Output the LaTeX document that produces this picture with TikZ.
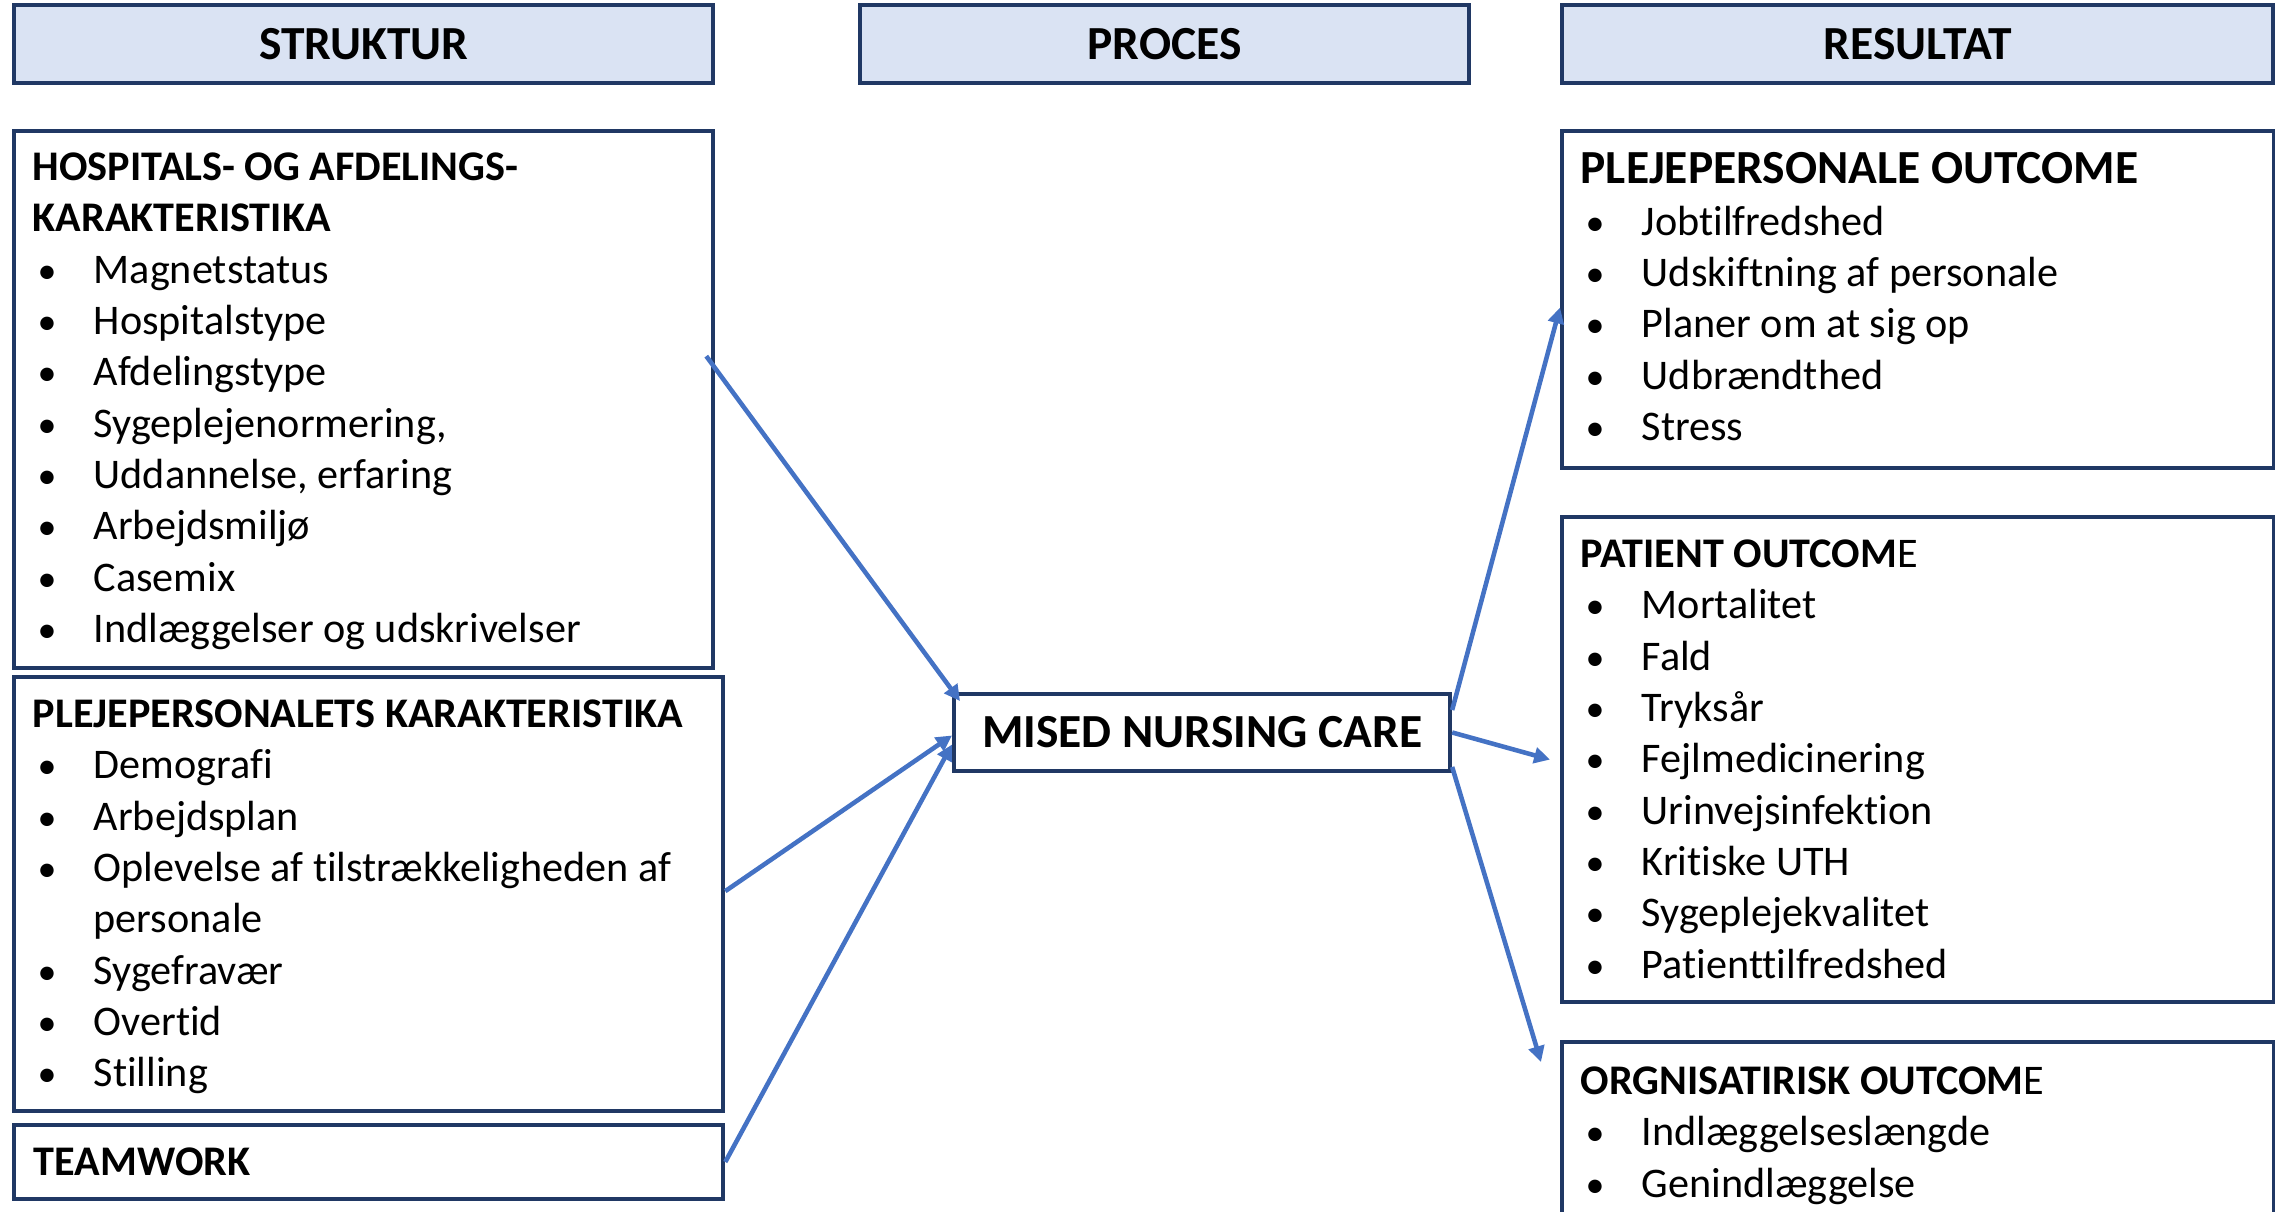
\documentclass[tikz,border=0pt]{standalone}
\usepackage{fontspec}
\setmainfont[Ligatures=NoCommon]{Carlito}
\usetikzlibrary{positioning,arrows.meta}
\definecolor{mncNavy}{RGB}{32,56,100}
\definecolor{mncHead}{RGB}{218,227,243}
\definecolor{mncArrow}{RGB}{68,114,196}
\newcommand{\itm}[1]{\hspace*{0.05cm}\makebox[0.56cm][l]{\scalebox{0.9}{\textbullet}}#1}

\begin{document}
\begin{tikzpicture}[
    x=0.01cm, y=-0.01cm,
    box/.style={rectangle, draw=mncNavy, line width=1.1pt, fill=white, anchor=north west, inner sep=0pt},
    head/.style={box, fill=mncHead, minimum height=0.78cm, font=\fontsize{13.5}{16}\selectfont\bfseries},
    listtxt/.style={anchor=north west, inner sep=0pt, align=left, font=\fontsize{12}{14.6}\selectfont},
    flow/.style={draw=mncArrow, line width=1.3pt, -{Triangle[length=4.5pt,width=4.5pt]}}
]
  \useasboundingbox (0,0) rectangle (2275,1211);

  % column headings
  \node[head, minimum width=6.99cm] (hdS) at (12,3) {STRUKTUR};
  \node[head, minimum width=6.09cm] (hdP) at (858,3) {PROCES};
  \node[head, minimum width=7.11cm] (hdR) at (1560,3) {RESULTAT};

  % struktur
  \node[box, minimum width=6.99cm, minimum height=5.37cm] (hosp) at (12,129) {};
  \node[box, minimum width=7.09cm, minimum height=4.34cm] (pleje) at (12,675) {};
  \node[box, text width=6.69cm, inner xsep=0.2cm, minimum height=0.74cm, align=left,
        font=\fontsize{12}{14.6}\selectfont\bfseries] (team) at (12,1123) {TEAMWORK};

  \node[listtxt] (hosptxt) at ([xshift=0.2cm,yshift=-0.23cm]hosp.north west)
    {\textbf{HOSPITALS- OG AFDELINGS-}\\
     \textbf{KARAKTERISTIKA}\\
     \itm{Magnetstatus}\\
     \itm{Hospitalstype}\\
     \itm{Afdelingstype}\\
     \itm{Sygeplejenormering,}\\
     \itm{Uddannelse, erfaring}\\
     \itm{Arbejdsmiljø}\\
     \itm{Casemix}\\
     \itm{Indlæggelser og udskrivelser}};
  \node[listtxt] (plejetxt) at ([xshift=0.2cm,yshift=-0.24cm]pleje.north west)
    {\textbf{PLEJEPERSONALETS KARAKTERISTIKA}\\
     \itm{Demografi}\\
     \itm{Arbejdsplan}\\
     \itm{Oplevelse af tilstrækkeligheden af}\\
     \hspace*{0.61cm}personale\\
     \itm{Sygefravær}\\
     \itm{Overtid}\\
     \itm{Stilling}};

  % proces
  \node[box, minimum width=4.96cm, minimum height=0.77cm,
        font=\fontsize{13.5}{16}\selectfont\bfseries] (mised) at (952,692) {MISED NURSING CARE};

  % resultat
  \node[box, minimum width=7.12cm, minimum height=3.37cm] (ppo) at (1560,129) {};
  \node[box, minimum width=7.12cm, minimum height=4.85cm] (pat) at (1560,515) {};
  \node[box, minimum width=7.12cm, minimum height=2.2cm] (org) at (1560,1040) {};

  \node[listtxt] (ppotxt) at ([xshift=0.2cm,yshift=-0.23cm]ppo.north west)
    {{\fontsize{13.5}{16}\selectfont\bfseries PLEJEPERSONALE OUTCOME}\\
     \itm{Jobtilfredshed}\\
     \itm{Udskiftning af personale}\\
     \itm{Planer om at sig op}\\
     \itm{Udbrændthed}\\
     \itm{Stress}};
  \node[listtxt] (pattxt) at ([xshift=0.2cm,yshift=-0.24cm]pat.north west)
    {\textbf{PATIENT OUTCOM}E\\
     \itm{Mortalitet}\\
     \itm{Fald}\\
     \itm{Tryksår}\\
     \itm{Fejlmedicinering}\\
     \itm{Urinvejsinfektion}\\
     \itm{Kritiske UTH}\\
     \itm{Sygeplejekvalitet}\\
     \itm{Patienttilfredshed}};
  \node[listtxt] (orgtxt) at ([xshift=0.2cm,yshift=-0.26cm]org.north west)
    {\textbf{ORGNISATIRISK OUTCOM}E\\
     \itm{Indlæggelseslængde}\\
     \itm{Genindlæggelse}};

  % connectors
  \draw[flow] ([xshift=-0.09cm,yshift=-2.27cm]hosp.north east) -- ([xshift=0.08cm,yshift=-0.09cm]mised.north west);
  \draw[flow] ([yshift=-2.16cm]pleje.north east) -- ([yshift=-0.03cm]mised.west);
  \draw[flow] (team.east) -- ([yshift=-0.12cm]mised.west);
  \draw[flow] ([yshift=-0.18cm]mised.north east) -- ([yshift=-0.08cm]ppo.west);
  \draw[flow] (mised.east) -- ([xshift=-0.1cm]pat.west);
  \draw[flow] ([yshift=0.06cm]mised.south east) -- ([xshift=-0.19cm,yshift=-0.22cm]org.north west);
\end{tikzpicture}
\end{document}
